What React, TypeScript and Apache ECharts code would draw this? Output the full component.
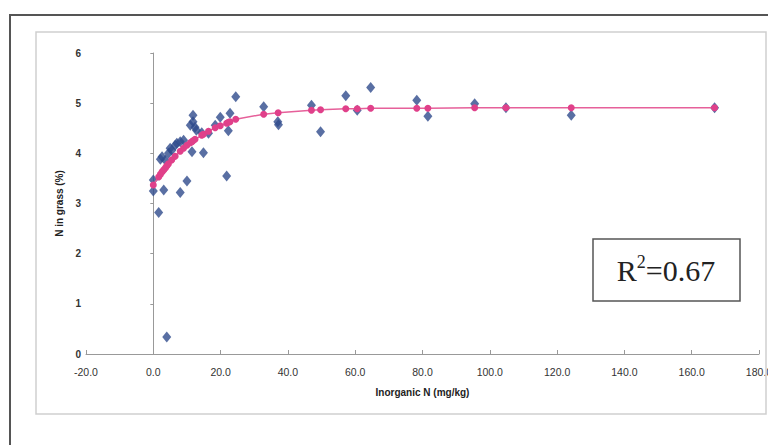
import React, { useEffect, useRef } from "react";
import * as echarts from "echarts";

// Observed data (blue diamonds)
const obsX = [0.0, 0.0, 1.6, 3.1, 4.0, 8.0, 10.0, 11.5, 14.9, 21.8, 2.1, 2.6, 3.6, 4.5, 5.0, 5.5, 6.5, 7.0, 8.0, 9.0, 11.0, 11.8, 11.8, 12.4, 12.8, 14.4, 16.4, 18.4, 19.9, 22.8, 22.3, 24.5, 32.8, 37.0, 37.2, 47.0, 49.7, 57.2, 60.6, 64.6, 78.3, 81.6, 95.5, 104.8, 124.2, 166.8];
const obsY = [3.47, 3.25, 2.82, 3.27, 0.34, 3.22, 3.45, 4.03, 4.01, 3.55, 3.88, 3.93, 3.86, 4.0, 4.1, 4.06, 4.16, 4.2, 4.23, 4.26, 4.56, 4.63, 4.76, 4.52, 4.46, 4.41, 4.4, 4.56, 4.72, 4.8, 4.45, 5.13, 4.93, 4.63, 4.57, 4.96, 4.43, 5.15, 4.86, 5.31, 5.06, 4.74, 4.99, 4.91, 4.76, 4.91];

// Fitted model values (pink line with points)
const fitX = [0.0, 1.6, 2.1, 2.6, 3.1, 3.6, 4.0, 4.5, 5.5, 6.5, 8.0, 9.0, 10.0, 11.0, 11.5, 11.8, 12.4, 14.4, 14.9, 16.4, 18.4, 19.9, 21.8, 22.3, 22.8, 24.5, 32.8, 37.1, 47.0, 49.7, 57.2, 60.6, 64.6, 78.3, 81.6, 95.5, 104.8, 124.2, 166.8];
const fitY = [3.37, 3.53, 3.58, 3.63, 3.67, 3.71, 3.75, 3.79, 3.87, 3.94, 4.04, 4.1, 4.16, 4.21, 4.23, 4.25, 4.28, 4.36, 4.38, 4.44, 4.51, 4.55, 4.6, 4.62, 4.63, 4.68, 4.78, 4.81, 4.86, 4.87, 4.89, 4.89, 4.9, 4.9, 4.9, 4.91, 4.91, 4.91, 4.91];

const xTicks = { min: -20, max: 180, interval: 20 };
const yTicks = { min: 0, max: 6, interval: 1 };

export default function App() {
  const ref = useRef<HTMLDivElement>(null);
  useEffect(() => {
    if (!ref.current) return;
    const chart = echarts.init(ref.current, undefined, { renderer: "svg" });
    const obs = obsX.map((x, i) => [x, obsY[i]]);
    const fit = fitX.map((x, i) => [x, fitY[i]]);
    chart.setOption({
      animation: false,
      backgroundColor: "#ffffff",
      grid: { left: 86, right: 9, top: 53, bottom: 91, outerBoundsMode: "none", containLabel: false },
      xAxis: {
        type: "value",
        min: xTicks.min,
        max: xTicks.max,
        interval: xTicks.interval,
        name: "Inorganic N (mg/kg)",
        nameLocation: "middle",
        nameGap: 33,
        nameTextStyle: { fontFamily: "Liberation Sans", fontSize: 10, fontWeight: "bold", color: "#222" },
        axisLine: { lineStyle: { color: "#999", width: 1 } },
        axisTick: { show: true, inside: true, length: 4, lineStyle: { color: "#999" } },
        axisLabel: {
          formatter: (v: number) => v.toFixed(1),
          fontFamily: "Liberation Sans",
          fontSize: 10.5,
          color: "#333",
          margin: 12,
          showMaxLabel: true,
          hideOverlap: false,
        },
        splitLine: { show: false },
      },
      yAxis: {
        type: "value",
        min: yTicks.min,
        max: yTicks.max,
        interval: yTicks.interval,
        name: "N in grass (%)",
        nameLocation: "middle",
        nameGap: 19,
        nameTextStyle: { fontFamily: "Liberation Sans", fontSize: 10, fontWeight: "bold", color: "#222" },
        axisLine: { onZero: true, lineStyle: { color: "#999", width: 1 } },
        axisTick: { show: true, length: 3, lineStyle: { color: "#999" } },
        axisLabel: { fontFamily: "Liberation Sans", fontSize: 10, fontWeight: "bold", color: "#333", margin: 5 },
        splitLine: { show: false },
      },
      series: [
        {
          type: "scatter",
          data: obs,
          symbol: "diamond",
          symbolSize: [9, 11],
          itemStyle: { color: "#2f4b8c" },
          z: 2,
        },
        {
          type: "line",
          data: fit,
          symbol: "circle",
          symbolSize: 7,
          showSymbol: true,
          lineStyle: { color: "#e6609a", width: 1.5 },
          itemStyle: { color: "#e0408a", borderWidth: 0 },
          z: 3,
        },
      ],
      graphic: [
        {
          type: "rect",
          shape: { x: 10, y: 15, width: 800, height: 460 },
          style: { fill: "none", stroke: "#555", lineWidth: 2 },
          silent: true,
          z: 10,
        },
        {
          type: "rect",
          shape: { x: 36, y: 32, width: 730, height: 382 },
          style: { fill: "none", stroke: "#cfcfcf", lineWidth: 1.5 },
          silent: true,
          z: 10,
        },
        {
          type: "rect",
          shape: { x: 593, y: 239, width: 147, height: 62 },
          style: { fill: "#fff", stroke: "#555", lineWidth: 1.5 },
          z: 20,
        },
        {
          type: "text",
          x: 666,
          y: 270,
          z: 21,
          style: {
            text: "{b|R}{s|2}{b|=0.67}",
            align: "center",
            verticalAlign: "middle",
            fill: "#222",
            rich: {
              b: { fontFamily: "Liberation Serif", fontSize: 30, fill: "#222", lineHeight: 34 },
              s: { fontFamily: "Liberation Serif", fontSize: 18, fill: "#222", lineHeight: 34, padding: [0, 0, 16, 0] },
            },
          },
        },
      ],
    });
    return () => chart.dispose();
  }, []);
  return (
    <div
      ref={ref}
      style={{ position: "fixed", left: 0, top: 0, width: 768, height: 445, background: "#fff" }}
    />
  );
}
